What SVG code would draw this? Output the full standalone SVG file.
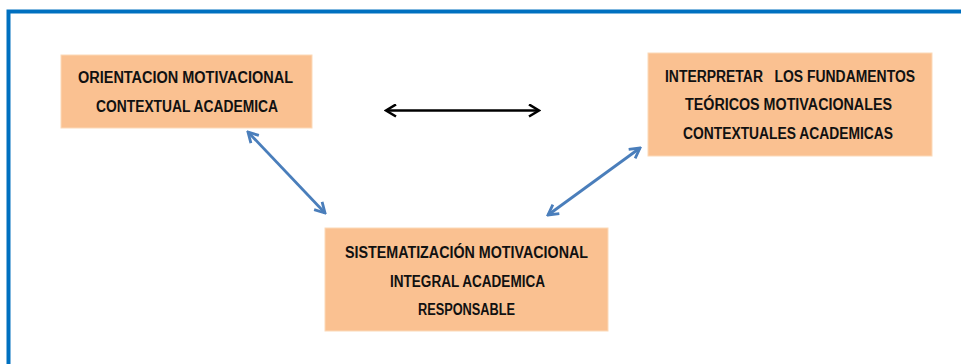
<svg xmlns="http://www.w3.org/2000/svg" width="961" height="364" viewBox="0 0 961 364">
  <style>
    .box { fill: #FAC191; stroke: #FCD9B8; stroke-width: 1; }
    .t { font-family: "Liberation Sans", Arial, sans-serif; font-weight: bold; font-size: 16px; fill: #111111; text-anchor: middle; white-space: pre; }
    .blue { stroke: #4A7EBB; stroke-width: 2.8; fill: none; }
    .black { stroke: #000000; stroke-width: 2.6; fill: none; }
  </style>
  <defs>
    <marker id="hb" viewBox="0 0 14 14" refX="12" refY="7" markerWidth="14" markerHeight="14" markerUnits="userSpaceOnUse" orient="auto-start-reverse">
      <path d="M2,1 L12,7 L2,13" fill="none" stroke="#000000" stroke-width="2.6" stroke-linejoin="miter"/>
    </marker>
    <marker id="hu" viewBox="0 0 14 14" refX="12" refY="7" markerWidth="14" markerHeight="14" markerUnits="userSpaceOnUse" orient="auto-start-reverse">
      <path d="M2,1.5 L12,7 L2,12.5" fill="none" stroke="#4A7EBB" stroke-width="2.8" stroke-linejoin="miter"/>
    </marker>
  </defs>
  <rect x="0" y="0" width="961" height="364" fill="#FFFFFF"/>
  <rect x="8.5" y="11.5" width="1000" height="400" fill="none" stroke="#0070C0" stroke-width="4"/>

  <g id="node-orientacion">
    <rect class="box" x="61" y="55" width="251" height="73"/>
    <text class="t" x="185.5" y="83" textLength="215" lengthAdjust="spacingAndGlyphs">ORIENTACION MOTIVACIONAL</text>
    <text class="t" x="187" y="112" textLength="182" lengthAdjust="spacingAndGlyphs">CONTEXTUAL ACADEMICA</text>
  </g>

  <g id="node-interpretar">
    <rect class="box" x="648" y="53" width="284" height="103"/>
    <text class="t" x="790" y="81.5" textLength="250" lengthAdjust="spacingAndGlyphs">INTERPRETAR   LOS FUNDAMENTOS</text>
    <text class="t" x="788.5" y="110" textLength="207" lengthAdjust="spacingAndGlyphs">TEÓRICOS MOTIVACIONALES</text>
    <text class="t" x="788" y="138.5" textLength="210" lengthAdjust="spacingAndGlyphs">CONTEXTUALES ACADEMICAS</text>
  </g>

  <g id="node-sistematizacion">
    <rect class="box" x="325" y="228" width="283" height="103"/>
    <text class="t" x="466.5" y="258" textLength="243" lengthAdjust="spacingAndGlyphs">SISTEMATIZACIÓN MOTIVACIONAL</text>
    <text class="t" x="467.5" y="287" textLength="155" lengthAdjust="spacingAndGlyphs">INTEGRAL ACADEMICA</text>
    <text class="t" x="466.5" y="315" textLength="97" lengthAdjust="spacingAndGlyphs">RESPONSABLE</text>
  </g>

  <g id="connectors">
    <line class="black" x1="386" y1="110.5" x2="539" y2="110.5" marker-start="url(#hb)" marker-end="url(#hb)"/>
    <line class="blue" x1="248" y1="132" x2="325" y2="213" marker-start="url(#hu)" marker-end="url(#hu)"/>
    <line class="blue" x1="548" y1="215" x2="640" y2="148" marker-start="url(#hu)" marker-end="url(#hu)"/>
  </g>
</svg>
